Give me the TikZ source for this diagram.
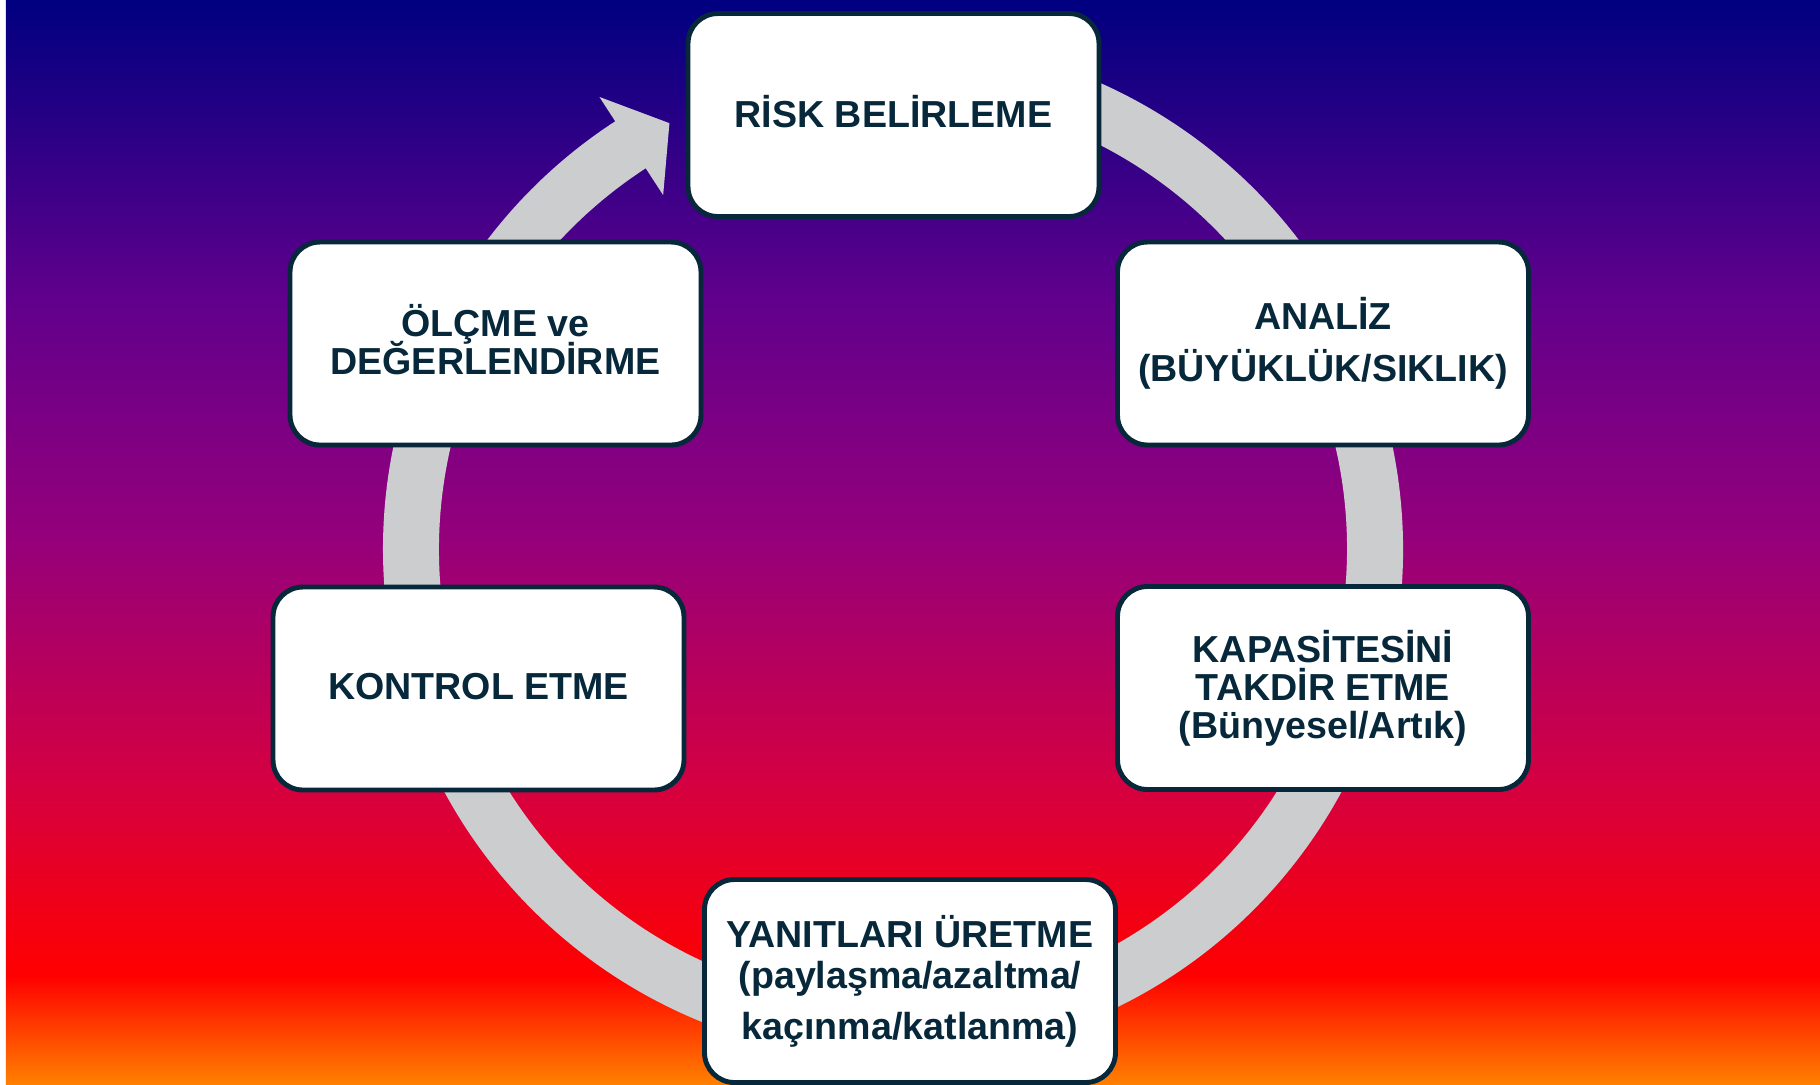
\documentclass[tikz,border=0pt]{standalone}
\usepackage{fontspec}
\setmainfont{Liberation Sans}

\definecolor{fadeA}{RGB}{0,0,128}
\definecolor{fadeB}{RGB}{98,0,140}
\definecolor{fadeC}{RGB}{150,0,122}
\definecolor{fadeD}{RGB}{212,0,66}
\definecolor{fadeE}{RGB}{255,0,0}
\definecolor{fadeF}{RGB}{255,128,0}
\definecolor{ringgray}{RGB}{204,205,207}
\definecolor{boxline}{RGB}{7,40,58}

\pgfdeclareverticalshading{bgfade}{100bp}{color(0bp)=(fadeF);
  color(25bp)=(fadeF); color(30bp)=(fadeE); color(39bp)=(fadeD);
  color(50bp)=(fadeC); color(61bp)=(fadeB); color(75bp)=(fadeA);
  color(100bp)=(fadeA)}

\begin{document}
\begin{tikzpicture}[stagebox/.style={draw=boxline, line width=1.4pt,
    fill=white, rounded corners=0.3cm, minimum width=4.11cm,
    minimum height=2.03cm, inner sep=0pt, align=center, text=boxline,
    font=\bfseries\fontsize{10.7}{10.8}\selectfont}]

\useasboundingbox (0,0) rectangle (18.2,-10.84);

\begin{scope}
  \fill [white] (0,0) rectangle (0.06,-10.84); \shade [shading=bgfade]
  (0.06,0) rectangle (18.2,-10.84);
\end{scope}

\begin{scope}[shift={(8.93,-5.49)}, fill=ringgray]
  \fill (100:5.10) arc [start angle=100, end angle=-237, radius=5.10]
  -- (-237:5.39) -- (-242.3:4.81) -- (-237:4.22) -- (-237:4.54) arc
  [start angle=-237, end angle=100, radius=4.54] -- cycle;
\end{scope}

\begin{scope}
  \node [stagebox] (risk) at (8.935,-1.15) {RİSK
    BELİRLEME\rule[-2pt]{0pt}{0pt}}; \node [stagebox] (analiz) at
  (13.23,-3.435) {ANALİZ\\[4pt](BÜYÜKLÜK/SIKLIK)}; \node [stagebox]
  (kapasite) at (13.23,-6.88) {KAPASİTESİNİ\\TAKDİR ETME\\(Bünyesel/Artık)};

  \node [stagebox] (yanit) at (9.10,-9.81) {YANITLARI
    ÜRETME\\[1pt](paylaşma/azaltma/\\[3.6pt]kaçınma/katlanma)};

  \node [stagebox] (kontrol) at (4.785,-6.885) {KONTROL
    ETME\rule[-1.2pt]{0pt}{0pt}}; \node [stagebox] (olcme) at
  (4.955,-3.435) {ÖLÇME ve\\[-1.8pt]DEĞERLENDİRME\rule[-2.5pt]{0pt}{0pt}};
\end{scope}
\end{tikzpicture}
\end{document}
